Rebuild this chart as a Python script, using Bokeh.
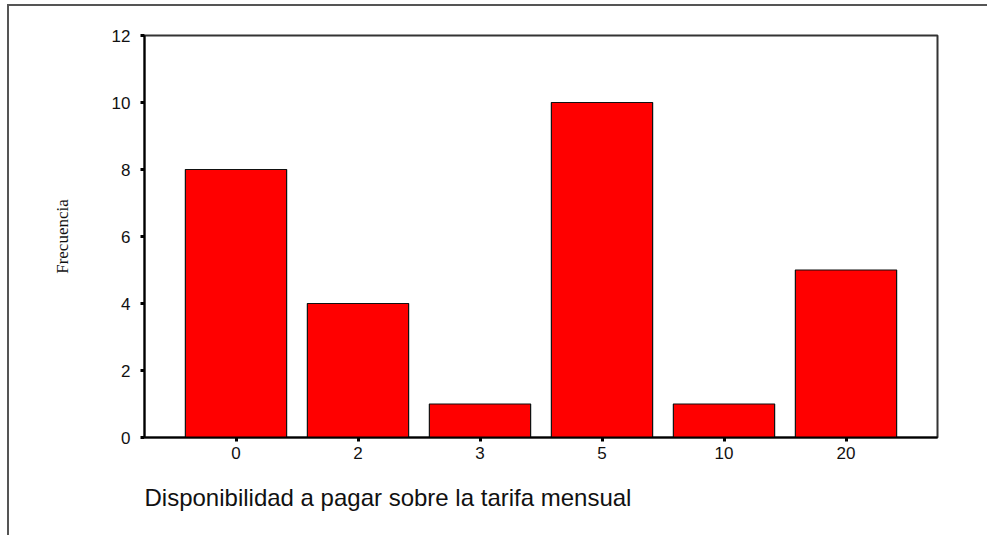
from bokeh.plotting import figure
from bokeh.models import ColumnDataSource, Range1d, FixedTicker, Title
from bokeh.embed import file_html
from bokeh.resources import INLINE

# Data
categories = ["0", "2", "3", "5", "10", "20"]
frequencies = [8, 4, 1, 10, 1, 5]
y_ticks = [0, 2, 4, 6, 8, 10, 12]

positions = list(range(len(categories)))
source = ColumnDataSource(dict(x=positions, top=frequencies))

p = figure(
    width=980, height=531,
    output_backend="svg", toolbar_location=None,
    x_range=Range1d(-0.75, len(categories) - 0.25),
    y_range=Range1d(0, 12),
    min_border_left=135, min_border_top=29,
    min_border_right=52, min_border_bottom=100,
)
p.styles = {"border-top": "2px solid #555", "border-left": "2px solid #555",
            "margin-left": "7px", "margin-top": "4px"}

p.vbar(x="x", top="top", width=0.83, source=source,
       fill_color="#FF0000", line_color="#111111", line_width=1.2)

p.xgrid.visible = False
p.ygrid.visible = False
p.outline_line_color = "#333333"
p.outline_line_width = 2
p.background_fill_color = "white"
p.border_fill_color = "white"

# Y axis
ya = p.yaxis[0]
ya.ticker = FixedTicker(ticks=y_ticks)
ya.minor_tick_line_color = None
ya.major_tick_in = 0
ya.major_tick_out = 4
ya.major_tick_line_width = 3
ya.major_tick_line_color = "black"
ya.axis_line_color = "black"
ya.axis_line_width = 2
ya.major_label_standoff = 10
ya.major_label_text_font = "Liberation Sans"
ya.major_label_text_font_size = "17px"
ya.major_label_text_color = "#111111"
ya.axis_label = "Frecuencia"
ya.axis_label_text_font = "Liberation Serif"
ya.axis_label_text_font_style = "normal"
ya.axis_label_text_font_size = "17px"
ya.axis_label_text_color = "#111111"
ya.axis_label_standoff = 37

# X axis
xa = p.xaxis[0]
xa.ticker = FixedTicker(ticks=positions)
xa.major_label_overrides = {i: c for i, c in enumerate(categories)}
xa.minor_tick_line_color = None
xa.major_tick_in = 0
xa.major_tick_out = 4
xa.major_tick_line_width = 3
xa.major_tick_line_color = "black"
xa.axis_line_color = "black"
xa.axis_line_width = 2
xa.major_label_standoff = 5
xa.major_label_text_font = "Liberation Sans"
xa.major_label_text_font_size = "17px"
xa.major_label_text_color = "#111111"

p.add_layout(Title(text="Disponibilidad a pagar sobre la tarifa mensual",
                   align="left", text_font="Liberation Sans",
                   text_font_size="24px", text_font_style="normal",
                   text_color="#111111", standoff=40), "below")

open("out.html", "w").write(file_html(p, INLINE))
